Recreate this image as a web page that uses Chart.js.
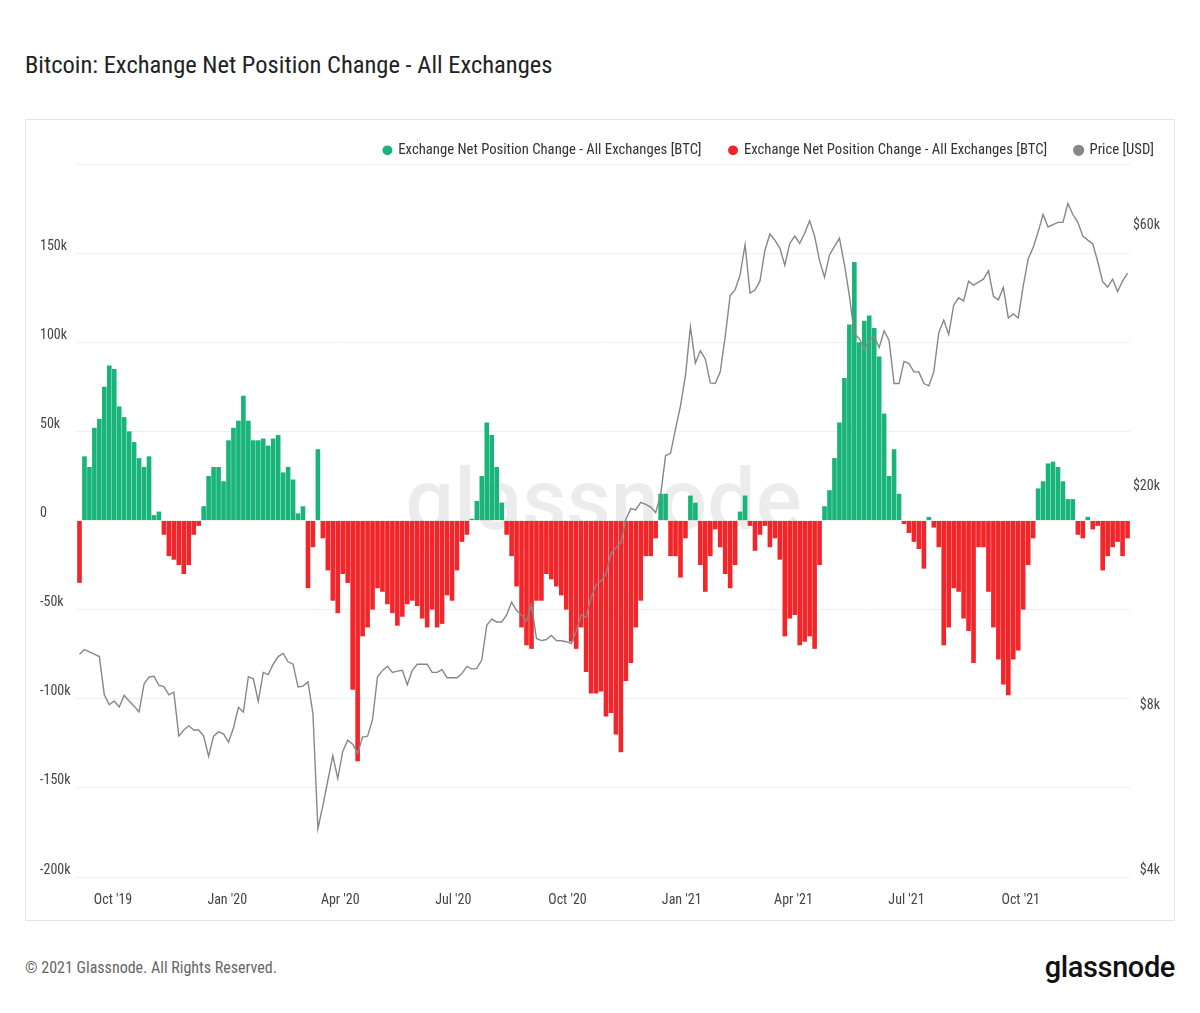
<!DOCTYPE html>
<html>
<head>
<meta charset="utf-8">
<script src="https://cdn.jsdelivr.net/npm/chart.js@4.4.1/dist/chart.umd.min.js"></script>
<style>
  body { margin: 0; background: #fff; width: 1200px; height: 1013px; position: relative; overflow: hidden;
         font-family: 'Roboto Condensed', 'Liberation Sans Narrow', 'DejaVu Sans Condensed', 'Roboto', sans-serif; }
  #title { position: absolute; left: 25px; top: 50px; font-size: 24.5px; line-height: 30px; color: #222; white-space: nowrap; }
  #box { position: absolute; left: 25px; top: 119px; width: 1150px; height: 802px; border: 1px solid #e4e4e4; box-sizing: border-box; }
  #copy { position: absolute; left: 25px; top: 957px; font-size: 16px; line-height: 22px; color: #666; white-space: nowrap; }
  #logo { position: absolute; right: 25px; top: 950px; font-family: Roboto, sans-serif; font-size: 29px; line-height: 34px; font-weight: 500; color: #111; letter-spacing: -0.4px; }
</style>
</head>
<body>
<div id="title">Bitcoin: Exchange Net Position Change - All Exchanges</div>
<div id="box"><canvas id="chart" width="1148" height="800"></canvas></div>
<div id="copy">© 2021 Glassnode. All Rights Reserved.</div>
<div id="logo">glassnode</div>
<script>
const FONT = "'Roboto Condensed', 'Liberation Sans Narrow', 'DejaVu Sans Condensed', 'Roboto', sans-serif";

// one value per 4-day bucket, first bucket starts 2 Sep 2019
const bucketDays = 4;

// net position change, thousand BTC
const netChange = [
  -35, 36, 30, 52, 57, 75, 87, 85, 64, 58, 50, 44, 35, 30, 36, 3, 5, -8, -20,
  -22, -25, -30, -25, -8, -3, 8, 25, 30, 30, 22, 45, 52, 56, 70, 56, 45, 45, 46, 42,
  46, 48, 27, 30, 23, 4, 8, -38, -15, 40, -10, -28, -45, -52, -30, -35, -95, -135, -65,
  -60, -50, -38, -40, -47, -52, -59, -54, -47, -45, -48, -55, -60, -50, -60, -58, -42, -45, -28, -12,
  -8, 1, 11, 25, 55, 48, 30, 10, -8, -20, -37, -60, -70, -72, -45, -45, -30, -33, -37,
  -42, -50, -68, -72, -60, -85, -97, -97, -96, -110, -108, -120, -130, -90, -80, -60, -45, -20, -20, -10,
  15, 15, -20, -20, -32, -10, 14, 10, -25, -40, -20, -5, -15, -30, -38, -25, 5, 14, -3,
  -17, -8, -3, -15, -10, -22, -65, -55, -53, -70, -68, -65, -72, -25, 8, 17, 35, 55, 80, 110,
  145, 100, 112, 115, 108, 92, 60, 25, 40, 15, -2, -7, -12, -16, -27, 2, -4, -15, -70,
  -60, -38, -40, -55, -62, -80, -15, -15, -40, -60, -78, -92, -98, -78, -73, -50, -25, -10, 18, 22,
  32, 33, 30, 22, 12, 12, -8, -10, 2, -5, -3, -28, -20, -15, -12, -20, -10
];

// BTC price, USD
const priceUsd = [
  10200, 10400, 10300, 10200, 10100, 8600, 8250, 8380, 8170, 8580, 8380, 8200, 8000, 9000, 9270, 9300, 8950, 8900, 8600,
  8700, 7230, 7420, 7550, 7420, 7420, 7230, 6640, 7230, 7360, 7300, 7050, 7480, 8160, 8000, 9280, 9200, 8370, 9450, 9365,
  9780, 10100, 10230, 9880, 9780, 8890, 8920, 9080, 7950, 4900, 5400, 6000, 6660, 6050, 6780, 7110, 6990, 6730, 7200,
  7230, 7750, 9280, 9530, 9700, 9450, 9500, 9530, 8970, 9530, 9780, 9780, 9780, 9450, 9450, 9560, 9240, 9240, 9240, 9400,
  9690, 9580, 9610, 9960, 11520, 11820, 11680, 11680, 12030, 12700, 12250, 12030, 11720, 12550, 10900, 10800, 10850, 11040, 10800,
  10790, 10750, 10660, 11220, 12030, 11920, 12930, 13630, 13870, 14280, 15560, 15960, 16300, 17960, 18800, 18700, 19300, 19150, 18930, 18500,
  19900, 23500, 23720, 26300, 28950, 32900, 40360, 34660, 36500, 35260, 31900, 31800, 33400, 38750, 46000, 47200, 50200, 57000, 46500,
  47100, 48900, 55700, 59600, 58100, 56200, 52300, 57300, 59100, 57300, 59800, 63000, 59100, 53300, 49700, 54600, 56600, 58600, 52500, 46000,
  39100, 38440, 36700, 38100, 38750, 37000, 39700, 38100, 31800, 31800, 34900, 34600, 33400, 33400, 31800, 31500, 33400, 39400, 41500,
  39100, 44200, 45600, 45000, 48900, 48100, 48700, 49300, 51100, 45900, 45200, 47600, 41900, 42600, 41900, 47900, 53700, 56300, 60100, 64700,
  61400, 62000, 62600, 62600, 67800, 64700, 62600, 59100, 58100, 57200, 53100, 48800, 47700, 49300, 46800, 48900, 50600
];

// days since 2 Sep 2019
const tickDays = [29, 121, 212, 303, 395, 487, 577, 668, 760];
const tickLabels = ["Oct '19", "Jan '20", "Apr '20", "Jul '20", "Oct '20", "Jan '21", "Apr '21", "Jul '21", "Oct '21"];
const priceTicks = [4000, 8000, 20000, 60000];
const totalDays = 848;

const GREEN = '#18b479';
const RED = '#f2262a';
const GREY = '#878787';

const dayOf = i => i * bucketDays + bucketDays / 2;
const greenBars = netChange.map((v, i) => ({ x: dayOf(i), y: v > 0 ? v * 1000 : null }));
const redBars = netChange.map((v, i) => ({ x: dayOf(i), y: v < 0 ? v * 1000 : null }));
const priceLine = priceUsd.map((v, i) => ({ x: dayOf(i), y: v }));

Chart.defaults.font.family = FONT;
Chart.defaults.font.size = 14;
Chart.defaults.color = '#444';

// faint logo behind the bars
const watermark = {
  id: 'watermark',
  beforeDatasetsDraw(chart) {
    const { ctx, chartArea: a } = chart;
    ctx.save();
    ctx.font = '500 86px Roboto, sans-serif';
    ctx.fillStyle = 'rgba(0,0,0,0.075)';
    ctx.textAlign = 'center';
    ctx.textBaseline = 'alphabetic';
    ctx.fillText('glassnode', (a.left + a.right) / 2, (a.top + a.bottom) / 2 + 8);
    ctx.restore();
  }
};

// keep the legend short and push it to the right edge
const legendPlace = {
  id: 'legendPlace',
  afterInit(chart) {
    const fit0 = chart.legend.fit;
    chart.legend.fit = function () { fit0.call(this); this.height = 44; };
  },
  afterLayout(chart) {
    const lg = chart.legend;
    lg.top = -5;
    lg.left += 22;
    lg.right += 22;
  }
};

const chart = new Chart(document.getElementById('chart'), {
  type: 'bar',
  data: {
    datasets: [
      {
        label: 'Exchange Net Position Change - All Exchanges [BTC]',
        data: greenBars,
        backgroundColor: GREEN,
        borderWidth: 0,
        grouped: false,
        barPercentage: 0.93,
        categoryPercentage: 1,
        yAxisID: 'y'
      },
      {
        label: 'Exchange Net Position Change - All Exchanges [BTC]',
        data: redBars,
        backgroundColor: RED,
        borderWidth: 0,
        grouped: false,
        barPercentage: 0.93,
        categoryPercentage: 1,
        yAxisID: 'y'
      },
      {
        type: 'line',
        label: 'Price [USD]',
        data: priceLine,
        borderColor: GREY,
        backgroundColor: GREY,
        borderWidth: 1.4,
        pointRadius: 0,
        tension: 0,
        order: -1,
        yAxisID: 'price'
      }
    ]
  },
  options: {
    responsive: false,
    animation: false,
    layout: { padding: { left: 14, right: 14, top: 0, bottom: 0 } },
    plugins: {
      tooltip: { enabled: false },
      legend: {
        position: 'top',
        align: 'end',
        labels: {
          usePointStyle: true,
          pointStyle: 'circle',
          boxWidth: 7,
          boxHeight: 7,
          padding: 28,
          color: '#333',
          font: { size: 14.7 },
          sort: (a, b) => a.datasetIndex - b.datasetIndex
        }
      }
    },
    scales: {
      x: {
        type: 'linear',
        min: 0,
        max: totalDays,
        offset: false,
        grid: { display: false, drawTicks: false },
        border: { display: false },
        afterBuildTicks: s => { s.ticks = tickDays.map(v => ({ value: v })); },
        afterFit: s => { s.height = 43; },
        ticks: {
          autoSkip: false,
          maxRotation: 0,
          padding: 15,
          callback: (v, i) => tickLabels[i]
        }
      },
      y: {
        position: 'left',
        min: -200000,
        max: 200000,
        grid: { color: '#f0f0f0', drawTicks: false },
        border: { display: false },
        afterFit: s => { s.width = 37; },
        ticks: {
          stepSize: 50000,
          crossAlign: 'far',
          labelOffset: -7,
          callback: v => v === 200000 ? '' : (v === 0 ? '0' : (v / 1000) + 'k')
        }
      },
      price: {
        type: 'logarithmic',
        position: 'right',
        min: 4000,
        max: 80000,
        grid: { display: false, drawTicks: false },
        border: { display: false },
        afterBuildTicks: s => { s.ticks = priceTicks.map(v => ({ value: v })); },
        afterFit: s => { s.width = 30; },
        ticks: {
          crossAlign: 'far',
          labelOffset: -7,
          callback: v => '$' + (v / 1000) + 'k'
        }
      }
    }
  },
  plugins: [watermark, legendPlace]
});
</script>
</body>
</html>
